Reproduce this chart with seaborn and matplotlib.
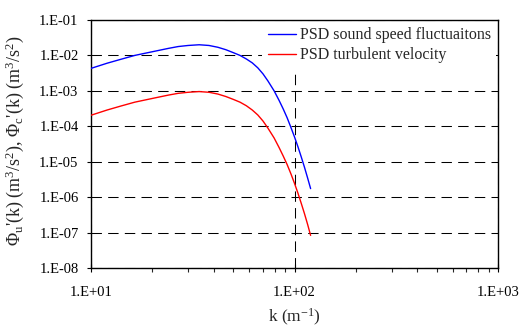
import numpy as np
import pandas as pd
import matplotlib
matplotlib.use("Agg")
import matplotlib.pyplot as plt
from matplotlib.ticker import FuncFormatter, LogLocator, NullLocator
import seaborn as sns

# ---- data ----
k_values = [10, 12, 14, 16.4, 20, 24, 26.8, 30, 34, 38, 42, 46, 50, 54, 58, 62,
            66, 70, 74, 79.4, 84, 88, 92, 96, 100, 104, 108, 112, 116, 120]
psd_sound = [4.31e-3, 6.03e-3, 7.76e-3, 1.0e-2, 1.27e-2, 1.58e-2, 1.78e-2, 1.91e-2,
             2.0e-2, 1.91e-2, 1.70e-2, 1.45e-2, 1.20e-2, 1.0e-2, 7.94e-3, 6.17e-3,
             4.47e-3, 3.02e-3, 1.91e-3, 1.0e-3, 5.37e-4, 3.09e-4, 1.74e-4, 9.33e-5,
             5.01e-5, 2.63e-5, 1.35e-5, 6.92e-6, 3.47e-6, 1.74e-6]
psd_turb = [2.05e-4, 2.88e-4, 3.72e-4, 4.79e-4, 6.10e-4, 7.59e-4, 8.51e-4, 9.12e-4,
            9.55e-4, 9.12e-4, 8.13e-4, 6.92e-4, 5.75e-4, 4.79e-4, 3.80e-4, 2.88e-4,
            2.09e-4, 1.41e-4, 8.91e-5, 4.68e-5, 2.51e-5, 1.45e-5, 8.32e-6, 4.57e-6,
            2.45e-6, 1.29e-6, 6.61e-7, 3.39e-7, 1.70e-7, 8.32e-8]

series_labels = ["PSD sound speed fluctuaitons", "PSD turbulent velocity"]
series_colors = ["#0000ff", "#ff0000"]

x_limits = [10, 1000]
y_limits = [1e-8, 1e-1]

sns.set_style("ticks")
plt.rcParams['font.family'] = ['Liberation Serif', 'DejaVu Serif']
plt.rcParams['mathtext.fontset'] = 'custom'
plt.rcParams['mathtext.rm'] = 'Liberation Serif'
plt.rcParams['mathtext.it'] = 'Liberation Serif'
plt.rcParams['mathtext.bf'] = 'Liberation Serif'

fig = plt.figure(figsize=(5.21, 3.28), dpi=100)
W, H = 521, 328
ax = fig.add_axes([91 / W, 1 - 268 / H, (498 - 91) / W, (268 - 20) / H])

df = pd.DataFrame({"k": k_values, "sound": psd_sound, "turb": psd_turb})
sns.lineplot(data=df, x="k", y="sound", ax=ax, color=series_colors[0],
             lw=1.0, label=series_labels[0], zorder=3)
sns.lineplot(data=df, x="k", y="turb", ax=ax, color=series_colors[1],
             lw=1.0, label=series_labels[1], zorder=3)

ax.set_xscale("log")
ax.set_yscale("log")
ax.set_xlim(*x_limits)
ax.set_ylim(*y_limits)

def fmt(v, pos):
    e = int(round(np.log10(v)))
    return f"1.E{e:+03d}"

ax.xaxis.set_major_locator(LogLocator(base=10, numticks=10))
ax.xaxis.set_minor_locator(LogLocator(base=10, subs=np.arange(2, 10), numticks=20))
ax.yaxis.set_major_locator(LogLocator(base=10, numticks=20))
ax.yaxis.set_minor_locator(NullLocator())
ax.xaxis.set_major_formatter(FuncFormatter(fmt))
ax.yaxis.set_major_formatter(FuncFormatter(fmt))

ax.tick_params(axis='x', which='major', direction='inout', length=6, width=0.8,
               labelsize=10.5, pad=10, colors='black')
ax.tick_params(axis='x', which='minor', direction='out', length=3, width=0.8)
ax.tick_params(axis='y', which='major', direction='out', length=3, width=0.8,
               labelsize=10.5, pad=6, colors='black')

for s in ax.spines.values():
    s.set_visible(True)
    s.set_color('black')
    s.set_linewidth(1.0)

ax.grid(True, which='major', axis='both', color='black', lw=0.75,
        linestyle=(0, (10, 6)))
ax.set_axisbelow(True)

ax.set_xlabel(r"k (m$^{\mathregular{-1}}$)", fontsize=12.5)
ax.xaxis.set_label_coords(0.5, -0.155)
ax.set_ylabel(r"$\Phi_{\mathregular{u}}$'(k) (m$^{\mathregular{3}}$/s$^{\mathregular{2}}$), "
              r"$\Phi_{\mathregular{c}}$'(k) (m$^{\mathregular{3}}$/s$^{\mathregular{2}}$)",
              fontsize=13)
ax.yaxis.set_label_coords(-0.16, 0.515)

leg = ax.legend(loc='upper right', bbox_to_anchor=(1.0, 1.0), frameon=True,
                fancybox=False, framealpha=1.0, facecolor='white',
                edgecolor='none', fontsize=11.5, handlelength=1.8,
                handletextpad=0.2, borderpad=0.35, labelspacing=0.25,
                borderaxespad=0.1)
leg.set_zorder(5)

fig.savefig("out.png", dpi=100)
